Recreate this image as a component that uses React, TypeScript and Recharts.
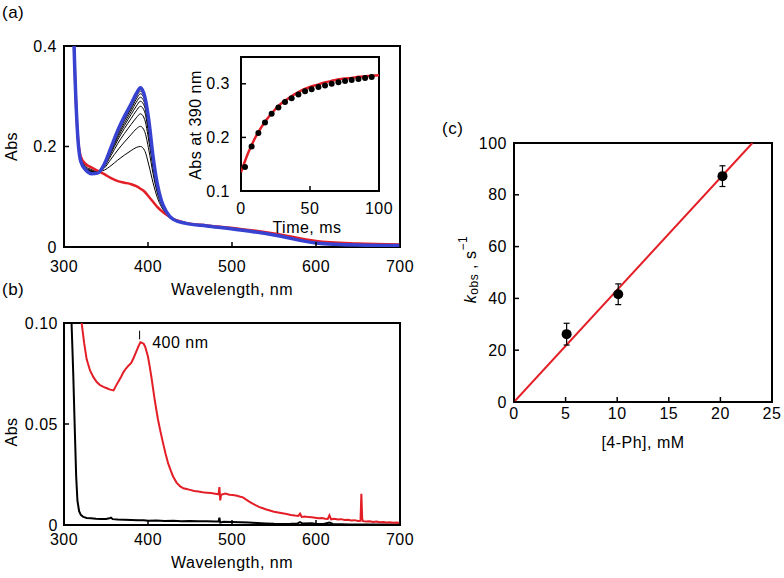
import React from "react";
import {
  LineChart,
  ComposedChart,
  Line,
  Scatter,
  ErrorBar,
  XAxis,
  YAxis,
  ReferenceArea,
  ReferenceLine,
  ReferenceDot,
  Label
} from "recharts";

const FONT = "'Liberation Sans', Arial, Helvetica, sans-serif";
const RED = "#e41e26";
const BLUE = "#3842d0";
const INK = "#000";

// (a) spectra, shared wavelength grid for first / last trace
const waveA = [308, 312, 316, 320, 326, 333, 340, 348, 356, 364, 372, 380, 386, 391, 396, 401, 406, 411, 416, 422, 430, 445, 470, 510, 550, 600, 650, 700];
const absStart = [0.7, 0.4, 0.23, 0.18, 0.165, 0.158, 0.152, 0.145, 0.137, 0.131, 0.128, 0.125, 0.121, 0.116, 0.11, 0.1, 0.09, 0.08, 0.072, 0.064, 0.056, 0.048, 0.043, 0.036, 0.027, 0.012, 0.007, 0.005];
const absEnd = [0.7, 0.4, 0.23, 0.17, 0.153, 0.146, 0.147, 0.165, 0.198, 0.232, 0.26, 0.285, 0.305, 0.317, 0.3, 0.252, 0.18, 0.126, 0.092, 0.07, 0.055, 0.047, 0.042, 0.034, 0.024, 0.008, 0.004, 0.003];

// intermediate traces (black)
const waveMid = [320, 326, 333, 340, 348, 356, 364, 372, 380, 386, 391, 396, 401, 406, 411, 416, 422, 430, 445];
const absMid = [
  [0.176, 0.16, 0.154, 0.15, 0.153, 0.162, 0.173, 0.183, 0.192, 0.198, 0.2, 0.192, 0.163, 0.128, 0.099, 0.08, 0.066, 0.056, 0.048],
  [0.174, 0.158, 0.152, 0.149, 0.157, 0.175, 0.193, 0.209, 0.224, 0.235, 0.24, 0.23, 0.193, 0.146, 0.108, 0.084, 0.066, 0.056, 0.048],
  [0.173, 0.156, 0.151, 0.148, 0.16, 0.182, 0.206, 0.226, 0.244, 0.257, 0.265, 0.254, 0.211, 0.157, 0.113, 0.087, 0.067, 0.055, 0.047],
  [0.172, 0.155, 0.15, 0.148, 0.161, 0.187, 0.213, 0.236, 0.256, 0.271, 0.28, 0.269, 0.222, 0.163, 0.117, 0.088, 0.067, 0.055, 0.047],
  [0.171, 0.155, 0.149, 0.148, 0.162, 0.19, 0.218, 0.242, 0.264, 0.28, 0.29, 0.279, 0.23, 0.168, 0.119, 0.089, 0.067, 0.055, 0.047],
  [0.171, 0.154, 0.149, 0.147, 0.163, 0.192, 0.222, 0.247, 0.27, 0.288, 0.298, 0.286, 0.236, 0.171, 0.121, 0.09, 0.068, 0.055, 0.047],
  [0.171, 0.154, 0.149, 0.147, 0.164, 0.194, 0.226, 0.252, 0.275, 0.294, 0.305, 0.293, 0.241, 0.175, 0.122, 0.091, 0.068, 0.055, 0.047],
  [0.17, 0.153, 0.148, 0.147, 0.164, 0.196, 0.228, 0.255, 0.279, 0.299, 0.31, 0.298, 0.245, 0.177, 0.123, 0.091, 0.068, 0.055, 0.047]
];

// inset: Abs at 390 nm vs time
const timeMs = [2.9, 7.7, 12.6, 17.4, 22.2, 27.1, 31.9, 36.7, 41.6, 46.4, 51.2, 56.1, 60.9, 65.7, 70.6, 75.4, 80.2, 85.1, 89.9, 94.7];
const abs390 = [0.145, 0.183, 0.208, 0.228, 0.244, 0.256, 0.266, 0.273, 0.28, 0.286, 0.29, 0.294, 0.297, 0.3, 0.303, 0.305, 0.307, 0.309, 0.311, 0.3125];
const fitTime = [0, 5, 10, 15, 20, 25, 30, 35, 40, 45, 50, 55, 60, 65, 70, 75, 80, 85, 90, 95, 100];
const fitAbs = [0.135, 0.17, 0.198, 0.22, 0.238, 0.253, 0.265, 0.274, 0.282, 0.289, 0.294, 0.298, 0.302, 0.305, 0.308, 0.31, 0.311, 0.313, 0.314, 0.315, 0.316];

// (b) spectra [nm, Abs]
const redB: [number, number][] = [
  [316, 0.13], [319, 0.108], [321, 0.1], [324, 0.09], [327, 0.082], [331, 0.0765], [335, 0.0732], [339, 0.0708],
  [343, 0.0692], [347, 0.0684], [351, 0.0677], [355, 0.067], [359, 0.0666], [362, 0.069], [365, 0.0712], [368, 0.0734],
  [371, 0.0758], [374, 0.0776], [377, 0.079], [380, 0.0802], [383, 0.0828], [386, 0.0858], [389, 0.0888], [391, 0.0905],
  [393, 0.0902], [395, 0.0896], [397, 0.0878], [400, 0.0833], [402, 0.0785], [404, 0.0734], [406, 0.0676], [408, 0.0619],
  [410, 0.0568], [412, 0.052], [415, 0.046], [418, 0.0404], [421, 0.0352], [424, 0.0305], [427, 0.027], [430, 0.0239],
  [434, 0.021], [438, 0.0192], [442, 0.0182], [446, 0.0178], [450, 0.0174], [455, 0.0168], [460, 0.0166], [465, 0.0162],
  [470, 0.016], [475, 0.0158], [480, 0.0155], [484, 0.0152], [485, 0.0188], [486, 0.0122], [487, 0.015], [492, 0.0156],
  [497, 0.015], [501, 0.0149], [506, 0.0145], [510, 0.014], [513, 0.0137], [516, 0.0128], [520, 0.0117], [524, 0.0107],
  [528, 0.0098], [532, 0.009], [536, 0.0084], [540, 0.0078], [545, 0.0072], [550, 0.0066], [555, 0.0062], [560, 0.0058],
  [565, 0.0054], [570, 0.005], [575, 0.0047], [579, 0.0045], [581, 0.0056], [583, 0.004], [587, 0.0042], [591, 0.0039],
  [595, 0.0038], [599, 0.0036], [603, 0.0033], [607, 0.0035], [611, 0.0031], [614, 0.003], [616, 0.0048], [618, 0.0028],
  [622, 0.0031], [626, 0.0027], [630, 0.0029], [634, 0.0025], [638, 0.0026], [642, 0.0022], [646, 0.0024], [650, 0.002],
  [653, 0.0021], [654, 0.0155], [655, 0.003], [656, 0.0019], [660, 0.0017], [664, 0.0019], [668, 0.0015], [672, 0.0017],
  [676, 0.0014], [680, 0.0015], [684, 0.0012], [688, 0.0014], [692, 0.0011], [696, 0.0012], [700, 0.001]
];
const blackB: [number, number][] = [
  [306, 0.14], [309, 0.1], [311, 0.075], [313, 0.045], [314.5, 0.024], [316, 0.012], [318, 0.0068], [320, 0.005],
  [323, 0.004], [327, 0.0035], [332, 0.0033], [338, 0.0031], [344, 0.003], [350, 0.003], [354, 0.0033], [356, 0.0036],
  [358, 0.0029], [364, 0.0027], [372, 0.0026], [380, 0.0025], [388, 0.0023], [395, 0.0024], [400, 0.0021], [410, 0.0022],
  [420, 0.002], [430, 0.0021], [440, 0.0019], [450, 0.002], [460, 0.0018], [470, 0.0019], [480, 0.0017], [484, 0.0018],
  [485, 0.0036], [486, 0.0012], [490, 0.0016], [500, 0.0015], [510, 0.0014], [520, 0.0012], [530, 0.001], [540, 0.0008],
  [550, 0.0006], [560, 0.0005], [570, 0.0006], [578, 0.0008], [581, 0.0014], [584, 0.0007], [595, 0.0009], [600, 0.0005],
  [610, 0.0006], [616, 0.0012], [620, 0.0005], [630, 0.0004], [640, 0.0003], [660, 0.0003], [680, 0.0002], [700, 0.0002]
];

// (c) k_obs vs [4-Ph]
const conc = [5.1, 10.1, 20.2];
const kObs = [26.2, 41.6, 87.2];
const kErr = [4.2, 4, 4];
const fitConc = [0, 23.1];
const fitK = [0, 100];

const zip = (xs: number[], ys: number[]) => xs.map((x, i) => ({ x, y: ys[i] }));
const fromPairs = (ps: [number, number][]) => ps.map(([x, y]) => ({ x, y }));

const tickFont = { fill: INK, fontSize: 16, fontFamily: FONT };
const tickStroke = { stroke: INK, strokeWidth: 1.5 };
const titleStyle = { fill: INK, fontSize: 16, fontFamily: FONT };

const KobsLabel = (props: any) => {
  const vb = props.viewBox;
  const cx = vb.x + vb.width / 2 + 3;
  const cy = vb.y + vb.height / 2 - 3;
  return (
    <text
      x={cx}
      y={cy}
      transform={`rotate(-90, ${cx}, ${cy})`}
      textAnchor="middle"
      dominantBaseline="central"
      fontFamily={FONT}
      fontSize={16}
      fill={INK}
    >
      <tspan fontStyle="italic">k</tspan>
      <tspan fontSize={12} dy={4}>obs</tspan>
      <tspan dy={-4}> ,  s</tspan>
      <tspan fontSize={12} dy={-7}>−1</tspan>
    </text>
  );
};

const Dot = (p: any) => <circle cx={p.cx} cy={p.cy} r={5} fill={INK} />;

const panelLabel = (text: string, left: number, top: number) => (
  <div style={{ position: "absolute", left, top, fontSize: 17, lineHeight: "17px", fontFamily: FONT }}>{text}</div>
);

export default function App() {
  const fmt1 = (v: number) => (v === 0 ? "0" : v.toFixed(1));
  const fmt2 = (v: number) => (v === 0 ? "0" : v.toFixed(2));

  return (
    <div
      style={{
        position: "absolute",
        left: 0,
        top: 0,
        width: 784,
        height: 578,
        background: "#fff",
        fontFamily: FONT,
        letterSpacing: "0.5px",
        overflow: "hidden"
      }}
    >
      {panelLabel("(a)", 2, 4)}
      {panelLabel("(b)", 2, 281)}
      {panelLabel("(c)", 442, 120)}

      {/* (a) main spectra */}
      <div style={{ position: "absolute", left: 0, top: 0 }}>
        <LineChart width={430} height={300} margin={{ top: 46, right: 30, bottom: 0, left: 0 }}>
          <XAxis
            type="number"
            dataKey="x"
            domain={[300, 700]}
            ticks={[300, 400, 500, 600, 700]}
            interval={0}
            allowDataOverflow
            height={53}
            tickSize={-5}
            tickMargin={19}
            tickLine={tickStroke}
            axisLine={false}
            tick={tickFont}
          >
            <Label value="Wavelength, nm" position="center" dy={15.5} style={titleStyle} />
          </XAxis>
          <YAxis
            type="number"
            domain={[0, 0.4]}
            ticks={[0, 0.2, 0.4]}
            interval={0}
            allowDataOverflow
            width={64}
            tickSize={-5}
            tickMargin={12}
            tickLine={tickStroke}
            axisLine={false}
            tick={tickFont}
            tickFormatter={fmt1}
          >
            <Label value="Abs" position="center" angle={-90} dx={-21} style={titleStyle} />
          </YAxis>
          <ReferenceArea x1={300} x2={700} y1={0} y2={0.4} fill="none" stroke={INK} strokeWidth={2} strokeOpacity={1} fillOpacity={0} />
          {absMid.map((vals, i) => (
            <Line
              key={i}
              data={zip(waveMid, vals)}
              dataKey="y"
              type="monotone"
              stroke={INK}
              strokeWidth={1}
              dot={false}
              isAnimationActive={false}
            />
          ))}
          <Line data={zip(waveA, absStart)} dataKey="y" type="monotone" stroke={RED} strokeWidth={2.5} dot={false} isAnimationActive={false} />
          <Line data={zip(waveA, absEnd)} dataKey="y" type="monotone" stroke={BLUE} strokeWidth={3.5} dot={false} isAnimationActive={false} />
        </LineChart>
      </div>

      {/* (a) inset kinetics */}
      <div style={{ position: "absolute", left: 180, top: 40 }}>
        <ComposedChart width={220} height={215} margin={{ top: 17, right: 21, bottom: 0, left: 0 }}>
          <XAxis
            type="number"
            dataKey="x"
            domain={[0, 100]}
            ticks={[0, 50, 100]}
            interval={0}
            allowDataOverflow
            height={64}
            tickSize={-5}
            tickMargin={17}
            tickLine={tickStroke}
            axisLine={false}
            tick={tickFont}
          >
            <Label value="Time, ms" position="center" dy={4} dx={-3} style={titleStyle} />
          </XAxis>
          <YAxis
            type="number"
            domain={[0.1, 0.35]}
            ticks={[0.1, 0.2, 0.3]}
            interval={0}
            allowDataOverflow
            width={61}
            tickSize={-5}
            tickMargin={16}
            tickLine={tickStroke}
            axisLine={false}
            tick={tickFont}
            tickFormatter={fmt1}
          >
            <Label value="Abs at 390 nm" position="center" angle={-90} dx={-15.5} dy={1} style={titleStyle} />
          </YAxis>
          <ReferenceArea x1={0} x2={100} y1={0.1} y2={0.35} fill="#fff" fillOpacity={1} stroke={INK} strokeWidth={2} />
          <Line data={zip(fitTime, fitAbs)} dataKey="y" type="monotone" stroke={RED} strokeWidth={2.5} dot={false} isAnimationActive={false} />
          <Line
            data={zip(timeMs, abs390)}
            dataKey="y"
            stroke="none"
            dot={{ r: 3, fill: INK, stroke: "none" }}
            isAnimationActive={false}
          />
        </ComposedChart>
      </div>

      {/* (b) spectra */}
      <div style={{ position: "absolute", left: 0, top: 290 }}>
        <LineChart width={430} height={288} margin={{ top: 33, right: 30, bottom: 0, left: 0 }}>
          <XAxis
            type="number"
            dataKey="x"
            domain={[300, 700]}
            ticks={[300, 400, 500, 600, 700]}
            interval={0}
            allowDataOverflow
            height={53}
            tickSize={-5}
            tickMargin={14}
            tickLine={tickStroke}
            axisLine={false}
            tick={tickFont}
          >
            <Label value="Wavelength, nm" position="center" dy={10.5} style={titleStyle} />
          </XAxis>
          <YAxis
            type="number"
            domain={[0, 0.1]}
            ticks={[0, 0.05, 0.1]}
            interval={0}
            allowDataOverflow
            width={64}
            tickSize={-5}
            tickMargin={11}
            tickLine={tickStroke}
            axisLine={false}
            tick={tickFont}
            tickFormatter={fmt2}
          >
            <Label value="Abs" position="center" angle={-90} dx={-21} dy={8} style={titleStyle} />
          </YAxis>
          <ReferenceArea x1={300} x2={700} y1={0} y2={0.1} fill="none" fillOpacity={0} stroke={INK} strokeWidth={2} />
          <Line data={fromPairs(blackB)} dataKey="y" type="linear" stroke={INK} strokeWidth={2} dot={false} isAnimationActive={false} />
          <Line data={fromPairs(redB)} dataKey="y" type="linear" stroke={RED} strokeWidth={2} dot={false} isAnimationActive={false} />
          <ReferenceLine segment={[{ x: 390, y: 0.0919 }, { x: 390, y: 0.0962 }]} stroke={INK} strokeWidth={1} />
          <ReferenceDot
            x={405}
            y={0.0906}
            r={0}
            stroke="none"
            fill="none"
            label={{ value: "400 nm", position: "right", offset: 0, style: titleStyle }}
          />
        </LineChart>
      </div>

      {/* (c) kobs vs [4-Ph] */}
      <div style={{ position: "absolute", left: 420, top: 110 }}>
        <ComposedChart width={364} height={360} margin={{ top: 33, right: 12, bottom: 0, left: 0 }}>
          <XAxis
            type="number"
            dataKey="x"
            domain={[0, 25]}
            ticks={[0, 5, 10, 15, 20, 25]}
            interval={0}
            allowDataOverflow
            height={68}
            tickSize={-5}
            tickMargin={11}
            tickLine={tickStroke}
            axisLine={false}
            tick={tickFont}
          >
            <Label value="[4-Ph], mM" position="center" dy={6} style={titleStyle} />
          </XAxis>
          <YAxis
            type="number"
            dataKey="y"
            domain={[0, 100]}
            ticks={[0, 20, 40, 60, 80, 100]}
            interval={0}
            allowDataOverflow
            width={94}
            tickSize={-5}
            tickMargin={12}
            tickLine={tickStroke}
            axisLine={false}
            tick={tickFont}
          >
            <Label content={<KobsLabel />} />
          </YAxis>
          <ReferenceArea x1={0} x2={25} y1={0} y2={100} fill="none" fillOpacity={0} stroke={INK} strokeWidth={2} />
          <Line data={zip(fitConc, fitK)} dataKey="y" type="linear" stroke={RED} strokeWidth={2} dot={false} isAnimationActive={false} />
          <Scatter
            data={conc.map((x, i) => ({ x, y: kObs[i], err: kErr[i] }))}
            dataKey="y"
            fill={INK}
            shape={<Dot />}
            isAnimationActive={false}
          >
            <ErrorBar dataKey="err" direction="y" width={3} stroke={INK} strokeWidth={1.2} />
          </Scatter>
        </ComposedChart>
      </div>
    </div>
  );
}
